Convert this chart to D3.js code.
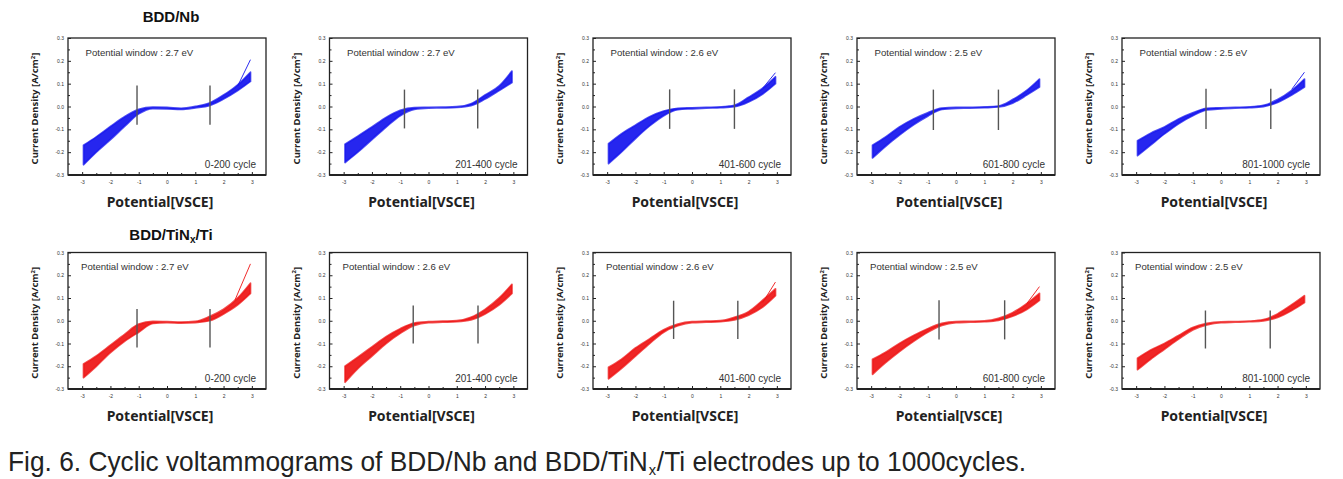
<!DOCTYPE html>
<html><head><meta charset="utf-8">
<script src="https://cdn.jsdelivr.net/npm/d3@7"></script>
<style>body{margin:0;background:#fff;} svg{display:block}</style>
</head><body>
<svg id="c" width="1343" height="479"></svg>
<script>
// ---------- data ----------
const potentials = [-2.95,-2.5,-2,-1.5,-1,-0.5,0,0.5,1,1.5,2,2.5,2.95];
const cycleLabels = ["0-200 cycle","201-400 cycle","401-600 cycle","601-800 cycle","801-1000 cycle"];
const windowNb = [2.7,2.7,2.6,2.5,2.5];
const windowTi = [2.7,2.6,2.6,2.5,2.5];
const xTicks = [-3,-2,-1,0,1,2,3];
const xTickLabels = ["-3","-2","-1","0","1","2","3"];
const xMinor = [-2.5,-1.5,-0.5,0.5,1.5,2.5];
const yTicks = [-0.3,-0.2,-0.1,0,0.1,0.2,0.3];
const yTickLabels = ["-0.3","-0.2","-0.1","0.0","0.1","0.2","0.3"];
const yMinor = [-0.25,-0.15,-0.05,0.05,0.15,0.25];

// BDD/Nb envelopes (upper / lower current density, A/cm2)
const nbUpper = [
  [-0.17,-0.133,-0.088,-0.045,-0.013,-0.003,-0.004,-0.008,0.0,0.015,0.05,0.095,0.15],
  [-0.165,-0.13,-0.09,-0.048,-0.017,-0.005,-0.004,-0.003,-0.001,0.012,0.05,0.09,0.155],
  [-0.163,-0.12,-0.082,-0.045,-0.02,-0.008,-0.006,-0.004,-0.002,0.005,0.04,0.08,0.13],
  [-0.17,-0.135,-0.09,-0.055,-0.028,-0.007,-0.004,-0.004,-0.002,0.002,0.03,0.07,0.12],
  [-0.15,-0.118,-0.09,-0.055,-0.028,-0.008,-0.006,-0.004,-0.002,0.005,0.03,0.07,0.12]
];
const nbLower = [
  [-0.255,-0.2,-0.145,-0.087,-0.032,-0.009,-0.01,-0.013,-0.006,0.004,0.033,0.07,0.11],
  [-0.245,-0.2,-0.145,-0.09,-0.04,-0.012,-0.007,-0.006,-0.004,0.004,0.033,0.07,0.105],
  [-0.25,-0.2,-0.14,-0.085,-0.04,-0.014,-0.01,-0.007,-0.005,-0.001,0.02,0.055,0.1],
  [-0.225,-0.175,-0.125,-0.08,-0.042,-0.013,-0.008,-0.007,-0.005,-0.002,0.015,0.05,0.085],
  [-0.215,-0.17,-0.12,-0.075,-0.04,-0.015,-0.01,-0.007,-0.005,0.0,0.018,0.05,0.085]
];
// BDD/TiNx/Ti envelopes
const tiUpper = [
  [-0.19,-0.155,-0.108,-0.06,-0.015,-0.003,-0.004,-0.006,-0.003,0.018,0.05,0.1,0.165],
  [-0.2,-0.16,-0.115,-0.07,-0.035,-0.01,-0.004,-0.002,0.0,0.015,0.05,0.1,0.16],
  [-0.205,-0.17,-0.12,-0.08,-0.04,-0.015,-0.004,-0.002,0.0,0.015,0.04,0.09,0.14],
  [-0.17,-0.14,-0.1,-0.065,-0.035,-0.012,-0.004,-0.003,-0.001,0.01,0.035,0.075,0.12],
  [-0.165,-0.13,-0.1,-0.065,-0.03,-0.012,-0.005,-0.004,-0.002,0.005,0.03,0.07,0.11]
];
const tiLower = [
  [-0.25,-0.2,-0.14,-0.09,-0.05,-0.012,-0.008,-0.01,-0.008,0.0,0.03,0.07,0.12],
  [-0.27,-0.21,-0.155,-0.1,-0.055,-0.02,-0.008,-0.006,-0.004,0.004,0.03,0.07,0.12],
  [-0.255,-0.21,-0.155,-0.1,-0.05,-0.022,-0.008,-0.006,-0.004,0.004,0.025,0.06,0.11],
  [-0.235,-0.185,-0.135,-0.09,-0.05,-0.02,-0.008,-0.006,-0.004,0.002,0.02,0.05,0.09],
  [-0.215,-0.17,-0.125,-0.08,-0.04,-0.018,-0.008,-0.006,-0.004,0.0,0.015,0.045,0.08]
];
// single stray cycles at the anodic end: [x0, y0, x1, y1] (null = none)
const nbStray = [[2.5,0.09,2.95,0.205], null, [2.5,0.08,2.95,0.148], null, [2.5,0.075,2.95,0.15]];
const tiStray = [[2.4,0.09,2.95,0.25], null, [2.5,0.08,2.95,0.17], [2.5,0.075,2.95,0.15], null];
// window marker lines: left potential, right potential, top, bottom
const nbMarkLeft = [-1.06,-0.85,-0.79,-0.8,-0.53];
const nbMarkRight = [1.52,1.74,1.5,1.5,1.76];
const nbMarkTop = [0.092,0.074,0.075,0.074,0.078];
const nbMarkBottom = [-0.08,-0.096,-0.098,-0.103,-0.098];
const tiMarkLeft = [-1.06,-0.54,-0.65,-0.6,-0.55];
const tiMarkRight = [1.52,1.75,1.62,1.72,1.74];
const tiMarkTop = [0.052,0.067,0.088,0.09,0.045];
const tiMarkBottom = [-0.118,-0.1,-0.08,-0.082,-0.122];

// ---------- drawing ----------
const svg = d3.select("#c");
const panelLeft = [68, 329.5, 593, 857, 1122];
const W = 198;
const rows = [
  {top:38, h:137, color:"#1414ee", up:nbUpper, lo:nbLower, stray:nbStray, win:windowNb,
   mL:nbMarkLeft, mR:nbMarkRight, mT:nbMarkTop, mB:nbMarkBottom, winInset:17.5},
  {top:252.5, h:136.5, color:"#ee1414", up:tiUpper, lo:tiLower, stray:tiStray, win:windowTi,
   mL:tiMarkLeft, mR:tiMarkRight, mT:tiMarkTop, mB:tiMarkBottom, winInset:13}
];
const labelFont = "'Noto Sans', 'Open Sans', sans-serif";
const sansFont = "'Liberation Sans', Arial, sans-serif";

rows.forEach((row, r) => {
  panelLeft.forEach((L, i) => {
    const H = row.h;
    const g = svg.append("g").attr("transform", `translate(${L},${row.top})`);
    const x = d3.scaleLinear().domain([-3.5,3.5]).range([0,W]);
    const y = d3.scaleLinear().domain([-0.3,0.3]).range([H,0]);

    // band of cycles
    const pts = potentials.map((p,k)=>({p, hi:row.up[i][k], lo:row.lo[i][k]}));
    const area = d3.area().x(d=>x(d.p)).y0(d=>y(d.lo)).y1(d=>y(d.hi)).curve(d3.curveMonotoneX);
    g.append("path").attr("d", area(pts)).attr("fill", row.color).attr("fill-opacity",0.92)
      .attr("stroke", row.color).attr("stroke-width",1.8).attr("stroke-opacity",0.75)
      .attr("stroke-linejoin","round");
    const s = row.stray[i];
    if (s) {
      g.append("line").attr("x1",x(s[0])).attr("y1",y(s[1])).attr("x2",x(s[2])).attr("y2",y(s[3]))
        .attr("stroke",row.color).attr("stroke-width",0.9);
    }

    // markers
    [row.mL[i], row.mR[i]].forEach(v => {
      g.append("line").attr("x1",x(v)).attr("x2",x(v)).attr("y1",y(row.mT[i])).attr("y2",y(row.mB[i]))
        .attr("stroke","#555").attr("stroke-width",1.4);
    });

    // axes
    const ya = g.append("g").call(d3.axisLeft(y).tickValues(yTicks).tickSize(-3).tickPadding(4)
      .tickFormat((d,k)=>yTickLabels[k]));
    const yb = g.append("g").call(d3.axisLeft(y).tickValues(yMinor).tickSize(-2).tickFormat(""));
    const xa = g.append("g").attr("transform",`translate(0,${H})`).call(d3.axisBottom(x).tickValues(xTicks)
      .tickSize(-3).tickPadding(5).tickFormat((d,k)=>xTickLabels[k]));
    const xb = g.append("g").attr("transform",`translate(0,${H})`).call(d3.axisBottom(x).tickValues(xMinor)
      .tickSize(-2).tickFormat(""));
    [ya,yb,xa,xb].forEach(a=>{
      a.select(".domain").remove();
      a.selectAll(".tick line").attr("stroke","#222").attr("stroke-width",1);
      a.selectAll(".tick text").attr("font-size",5).attr("font-family",sansFont).attr("fill","#333");
    });
    g.append("rect").attr("width",W).attr("height",H).attr("fill","none").attr("stroke","#222").attr("stroke-width",1.3);
    g.append("line").attr("x1",0).attr("x2",W).attr("y1",H).attr("y2",H).attr("stroke","#222").attr("stroke-width",2);

    // annotations
    g.append("text").attr("x",row.winInset).attr("y",17.5).attr("font-family",sansFont).attr("font-size",9.6)
      .attr("fill","#333").text(`Potential window : ${row.win[i]} eV`);
    g.append("text").attr("x",W-10).attr("y",H-7.5).attr("text-anchor","end").attr("font-family",sansFont)
      .attr("font-size",10).attr("fill","#333").text(cycleLabels[i]);

    // axis titles
    const yl = svg.append("text").attr("transform",`translate(${L-30},${row.top+H/2+2}) rotate(-90)`)
      .attr("text-anchor","middle").attr("font-family",labelFont).attr("font-weight","bold")
      .attr("font-size",9.5).attr("fill","#222");
    yl.append("tspan").text("Current Density [A/cm");
    yl.append("tspan").attr("font-size",6).attr("dy",-3.5).text("2");
    yl.append("tspan").attr("dy",3.5).text("]");
    svg.append("text").attr("x",L+W/2-7).attr("y",row.top+H+32).attr("text-anchor","middle")
      .attr("font-family",labelFont).attr("font-weight","bold").attr("font-size",14).attr("fill","#222")
      .text("Potential[VSCE]");
  });
});

// row titles
svg.append("text").attr("x",171).attr("y",21.7).attr("text-anchor","middle").attr("font-family",sansFont)
  .attr("font-weight","bold").attr("font-size",15).attr("fill","#111").text("BDD/Nb");
const t2 = svg.append("text").attr("x",171).attr("y",240).attr("text-anchor","middle").attr("font-family",sansFont)
  .attr("font-weight","bold").attr("font-size",15).attr("fill","#111");
t2.append("tspan").text("BDD/TiN");
t2.append("tspan").attr("font-size",10).attr("dy",3).text("x");
t2.append("tspan").attr("dy",-3).text("/Ti");

// caption: three pieces placed side by side, then condensed to the reference width
const capG = svg.append("g");
const capParts = [
  {t:"Fig. 6. Cyclic voltammograms of BDD/Nb and BDD/TiN", size:27, dy:0},
  {t:"x", size:15, dy:4},
  {t:"/Ti electrodes up to 1000cycles.", size:27, dy:0}
];
let cx = 0;
capParts.forEach(p => {
  const t = capG.append("text").attr("x",cx).attr("y",p.dy).attr("font-family",sansFont)
    .attr("font-size",p.size).attr("fill","#222").text(p.t);
  cx += t.node().getComputedTextLength() + 0.8;
});
const sx = 1019 / cx;
capG.attr("transform",`translate(8,471) scale(${sx},1)`);
</script>
</body></html>
